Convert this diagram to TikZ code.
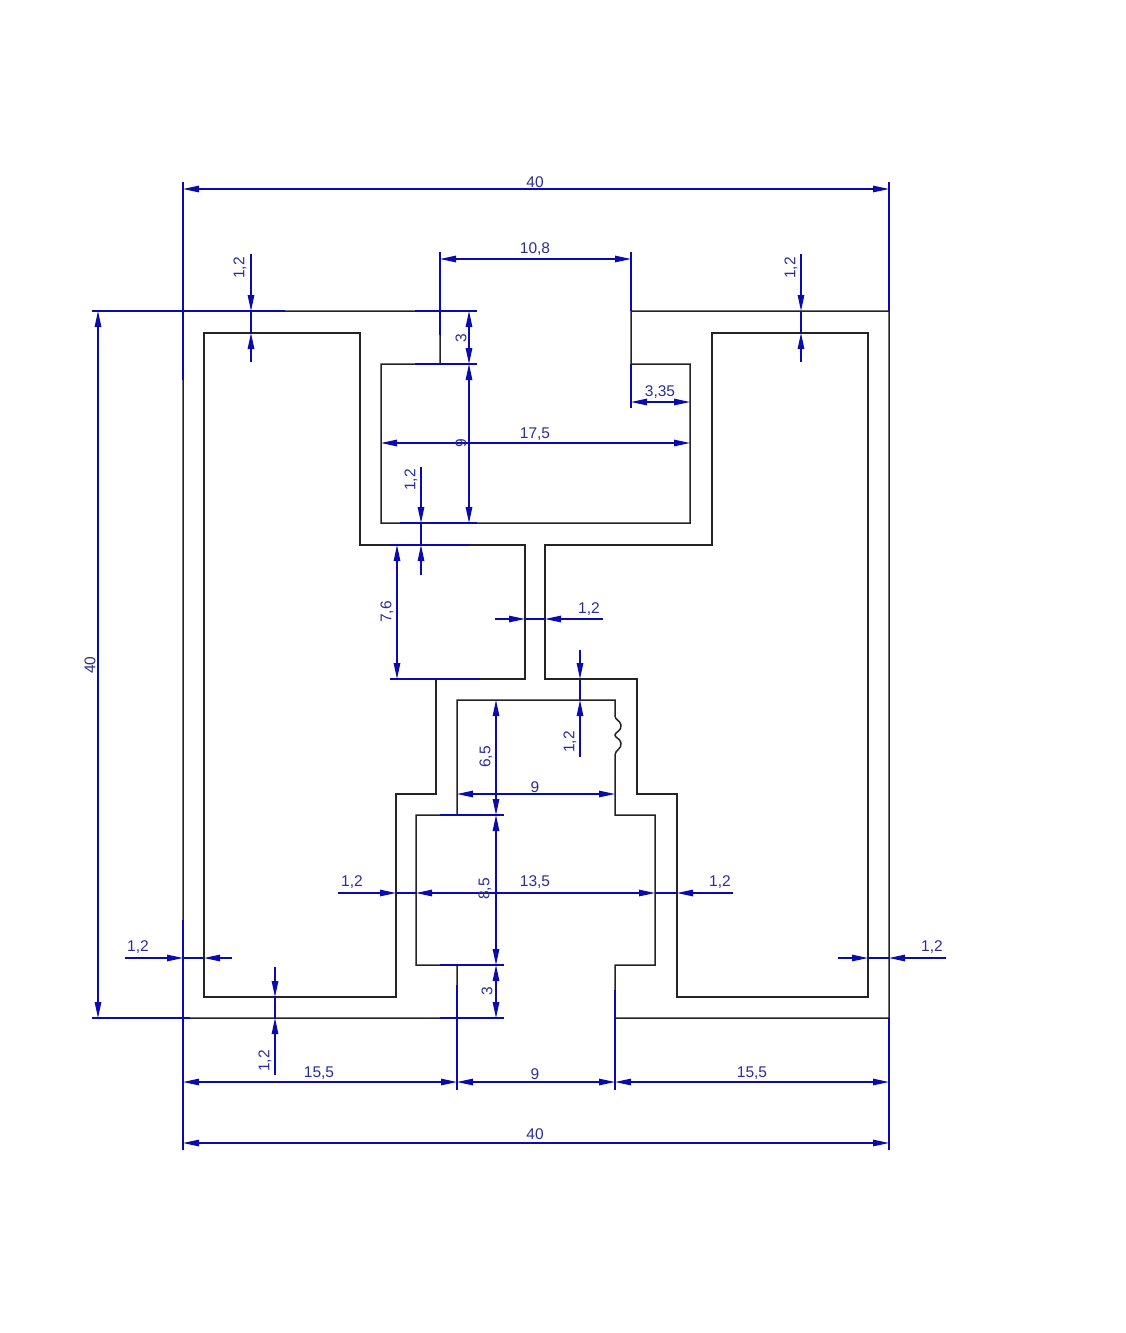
\documentclass[tikz,border=0pt]{standalone}
\usepackage{fontspec}
\setmainfont{Liberation Sans}
\usetikzlibrary{arrows.meta}
\definecolor{dimblue}{RGB}{10,10,175}
\definecolor{dimtext}{RGB}{45,45,150}
\definecolor{wall}{RGB}{35,35,40}
\tikzset{
  x=1pt,y=-1pt,
  wall line/.style={draw=wall,line width=1.5pt,line join=miter},
  dim/.style={draw=dimblue,line width=1.2pt},
  dimboth/.style={dim,{Triangle[length=16pt,width=6.5pt]}-{Triangle[length=16pt,width=6.5pt]}},
  dimto/.style={dim,-{Triangle[length=16pt,width=6.5pt]}},
  ext/.style={draw=dimblue,line width=1.2pt},
  lab/.style={text=dimtext,font=\fontsize{15.5}{16}\selectfont,inner sep=0pt,yshift=-1pt},
  labv/.style={text=dimtext,font=\fontsize{15.5}{16}\selectfont,inner sep=0pt,xshift=1pt,rotate=90},
}
% two-headed dimension between two named points
\newcommand\dimspan[3]{\coordinate (#1a) at (#2);\coordinate (#1b) at (#3);\path[dimboth] (#1a) -- (#1b);}
% plain extension line between two named points
\newcommand\extline[3]{\coordinate (#1a) at (#2);\coordinate (#1b) at (#3);\path[ext] (#1a) -- (#1b);}
% wall-thickness dimension: outer end, tip, tip, outer end
\newcommand\dimthin[5]{\coordinate (#1a) at (#2);\coordinate (#1p) at (#3);\coordinate (#1q) at (#4);\coordinate (#1b) at (#5);
  \path[dimto] (#1a) -- (#1p);\path[dimto] (#1b) -- (#1q);\path[dim] (#1p) -- (#1q);}
% one-sided dimension: outer end, tip, inner end
\newcommand\dimone[4]{\coordinate (#1a) at (#2);\coordinate (#1p) at (#3);\coordinate (#1q) at (#4);
  \path[dimto] (#1a) -- (#1p);\path[dim] (#1p) -- (#1q);}
\begin{document}
\begin{tikzpicture}
\useasboundingbox (0,0) rectangle (1125,1333);
\fill[white] (0,0) rectangle (1125,1333);
% profile
\path[wall line] (183,311) -- (440,311) -- (440,364) -- (381,364) -- (381,523) -- (690,523) -- (690,364) -- (631,364) -- (631,311) -- (889,311) -- (889,1018) -- (615,1018) -- (615,965) -- (655,965) -- (655,815) -- (615,815) -- (615,755)
  .. controls (615,750) and (622,749) .. (621,743) .. controls (620,738) and (615,738) .. (615,735) .. controls (615,732) and (622,731) .. (621,725) .. controls (620,720) and (615,720) .. (615,716)
  -- (615,700) -- (457,700) -- (457,815) -- (416,815) -- (416,965) -- (457,965) -- (457,1018) -- (183,1018) -- cycle;
\path[wall line] (204,333) -- (360,333) -- (360,545) -- (525,545) -- (525,679) -- (436,679) -- (436,794) -- (396,794) -- (396,997) -- (204,997) -- cycle;
\path[wall line] (712,333) -- (868,333) -- (868,997) -- (677,997) -- (677,794) -- (637,794) -- (637,679) -- (545,679) -- (545,545) -- (712,545) -- cycle;
% extension lines
\extline{e1}{183,182}{183,380}
\extline{e2}{889,182}{889,311}
\extline{e3}{440,252}{440,335}
\extline{e4}{631,252}{631,311}
\extline{e5}{92,311}{285,311}
\extline{e6}{92,1018}{190,1018}
\extline{e7}{415,311}{477,311}
\extline{e8}{415,364}{477,364}
\extline{e9}{400,523}{477,523}
\extline{e10}{390,545}{470,545}
\extline{e11}{390,679}{480,679}
\extline{e12}{440,815}{504,815}
\extline{e13}{440,965}{504,965}
\extline{e14}{440,1018}{504,1018}
\extline{e15}{183,920}{183,1150}
\extline{e16}{889,1018}{889,1150}
\extline{e17}{457,985}{457,1090}
\extline{e18}{615,990}{615,1090}
\extline{e19}{631,364}{631,408}
% dimensions
\dimspan{d1}{183,189}{889,189}
\dimspan{d2}{440,259}{631,259}
\dimspan{d3}{98,311}{98,1018}
\dimspan{d4}{469,311}{469,364}
\dimspan{d5}{469,364}{469,523}
\dimspan{d6}{381,443}{690,443}
\dimspan{d7}{631,402}{690,402}
\dimspan{d8}{397,545}{397,679}
\dimspan{d9}{496,700}{496,815}
\dimspan{d10}{457,794}{615,794}
\dimspan{d11}{496,815}{496,965}
\dimspan{d12}{496,965}{496,1018}
\dimspan{d13}{416,893}{655,893}
\dimspan{d14}{183,1082}{457,1082}
\dimspan{d15}{457,1082}{615,1082}
\dimspan{d16}{615,1082}{889,1082}
\dimspan{d17}{183,1143}{889,1143}
\dimthin{t1}{251,254}{251,311}{251,333}{251,362}
\dimthin{t2}{801,254}{801,311}{801,333}{801,362}
\dimthin{t3}{421,467}{421,523}{421,545}{421,575}
\dimthin{t4}{495,619}{525,619}{545,619}{603,619}
\dimthin{t5}{580,650}{580,679}{580,700}{580,757}
\dimone{t6}{338,893}{396,893}{416,893}
\dimone{t7}{733,893}{677,893}{655,893}
\dimthin{t8}{125,958}{183,958}{204,958}{232,958}
\dimthin{t9}{838,958}{868,958}{889,958}{946,958}
\dimthin{t10}{275,967}{275,997}{275,1018}{275,1075}
% labels
\node[lab] (l1) at (535,181) {40};
\node[lab] (l2) at (535,248) {10,8};
\node[labv] (l3) at (239,268) {1,2};
\node[labv] (l4) at (790,268) {1,2};
\node[labv] (l5) at (89,665) {40};
\node[labv] (l6) at (460,338) {3};
\node[labv] (l7) at (460,443) {9};
\node[lab] (l8) at (535,433) {17,5};
\node[lab] (l9) at (660,391) {3,35};
\node[labv] (l10) at (410,480) {1,2};
\node[labv] (l11) at (386,612) {7,6};
\node[lab] (l12) at (589,608) {1,2};
\node[labv] (l13) at (569,742) {1,2};
\node[labv] (l14) at (485,757) {6,5};
\node[lab] (l15) at (535,786) {9};
\node[labv] (l16) at (484,889) {8,5};
\node[lab] (l17) at (535,881) {13,5};
\node[lab] (l18) at (352,881) {1,2};
\node[lab] (l19) at (720,881) {1,2};
\node[lab] (l20) at (138,946) {1,2};
\node[lab] (l21) at (932,946) {1,2};
\node[labv] (l22) at (486,991) {3};
\node[labv] (l23) at (264,1061) {1,2};
\node[lab] (l24) at (319,1072) {15,5};
\node[lab] (l25) at (535,1073) {9};
\node[lab] (l26) at (752,1072) {15,5};
\node[lab] (l27) at (535,1133) {40};
\end{tikzpicture}
\end{document}
